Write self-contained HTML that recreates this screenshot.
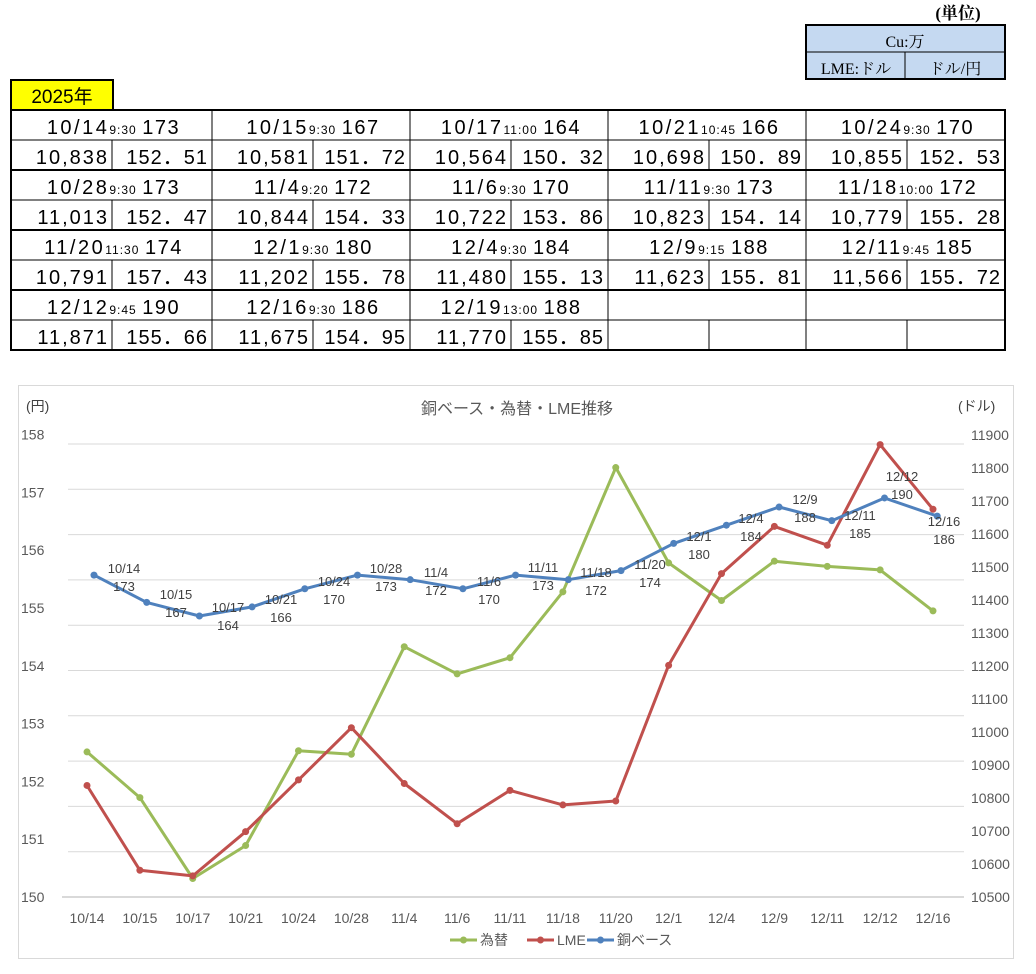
<!DOCTYPE html>
<html><head><meta charset="utf-8">
<style>
html,body{margin:0;padding:0;background:#fff;}
svg{display:block;}
.t{font-family:"Liberation Sans","Noto Sans CJK JP",sans-serif;}
.m{font-family:"Liberation Serif","Noto Serif CJK SC",serif;}
</style></head>
<body>
<svg id="s" width="1036" height="974" xmlns="http://www.w3.org/2000/svg"></svg>
<script>
const S=document.getElementById('s');let h='';
function T(x,y,s,sz,anchor,fill,cls,extra){h+=`<text x="${x}" y="${y}" font-size="${sz}" text-anchor="${anchor||'start'}" fill="${fill||'#000'}" class="${cls||'t'}" ${extra||''}>${s}</text>`;}
function L(x1,y1,x2,y2,c,w){h+=`<line x1="${x1}" y1="${y1}" x2="${x2}" y2="${y2}" stroke="${c}" stroke-width="${w}"/>`;}
T(958,19,'(単位)',17,'middle','#000','m','font-weight="bold"');
h+=`<rect x="806" y="25" width="199" height="54" fill="#c5d9f1" stroke="#000" stroke-width="2"/>`;
L(806,52,1005,52,'#000',1);L(905,52,905,79,'#000',1);
T(905,47,'Cu:万',16,'middle','#000','m');
T(856,74,'LME:ドル',16,'middle','#000','m');
T(955,74,'ドル/円',16,'middle','#000','m');
h+=`<rect x="11" y="80" width="102" height="30" fill="#ffff00" stroke="#000" stroke-width="2"/>`;
T(62,103,'2025年',19,'middle');
const D=[['10/14','9:30','173','10,838','152.51'],['10/15','9:30','167','10,581','151.72'],['10/17','11:00','164','10,564','150.32'],['10/21','10:45','166','10,698','150.89'],['10/24','9:30','170','10,855','152.53'],
['10/28','9:30','173','11,013','152.47'],['11/4','9:20','172','10,844','154.33'],['11/6','9:30','170','10,722','153.86'],['11/11','9:30','173','10,823','154.14'],['11/18','10:00','172','10,779','155.28'],
['11/20','11:30','174','10,791','157.43'],['12/1','9:30','180','11,202','155.78'],['12/4','9:30','184','11,480','155.13'],['12/9','9:15','188','11,623','155.81'],['12/11','9:45','185','11,566','155.72'],
['12/12','9:45','190','11,871','155.66'],['12/16','9:30','186','11,675','154.95'],['12/19','13:00','188','11,770','155.85']];
const gx=[11,212,410,608,806,1005];
for(let r=0;r<4;r++){const y=110+r*60;
 L(11,y+30,1005,y+30,'#000',1);
 for(let g=0;g<5;g++){L(gx[g]+101,y+30,gx[g]+101,y+60,'#000',1);if(g>0)L(gx[g],y,gx[g],y+60,'#000',1);
  const d=D[r*5+g];if(!d)continue;const cx=(gx[g]+gx[g+1])/2;
  h+=`<text x="${cx+2}" y="${y+24}" text-anchor="middle" class="t" font-size="20"><tspan letter-spacing="2.5">${d[0]}</tspan><tspan font-size="12" letter-spacing="1">${d[1]}</tspan> <tspan letter-spacing="1.5"> ${d[2]}</tspan></text>`;
  T(gx[g]+98,y+54,d[3],20,'end','#000','t','letter-spacing="2"');
  T(gx[g+1]-4,y+54,d[4].replace('.','．'),20,'end','#000','t','letter-spacing="1"');
 }
 if(r>0)L(11,y,1005,y,'#000',2);
}
h+=`<rect x="11" y="110" width="994" height="240" fill="none" stroke="#000" stroke-width="2"/>`;
h+=`<rect x="18.5" y="385.5" width="995" height="573" fill="#fff" stroke="#d9d9d9" stroke-width="1"/>`;
T(517,414,'銅ベース・為替・LME推移',16,'middle','#595959');
T(26,411,'(円)',14,'start','#404040');T(958,411,'(ドル)',14,'start','#404040');
for(let i=0;i<10;i++){const y=444+i*45.3;L(68,y,964,y,'#d9d9d9',1);}
L(62,897,964,897,'#d9d9d9',2);
for(let i=0;i<=8;i++){const y=897-i*57.8;T(21,y+5,150+i,14,'start','#595959');}
for(let i=0;i<=14;i++){const y=897-i*33;T(971,y+5,10500+i*100,14,'start','#595959');}
const dates=['10/14','10/15','10/17','10/21','10/24','10/28','11/4','11/6','11/11','11/18','11/20','12/1','12/4','12/9','12/11','12/12','12/16'];
const lme=[10838,10581,10564,10698,10855,11013,10844,10722,10823,10779,10791,11202,11480,11623,11566,11871,11675];
const yen=[152.51,151.72,150.32,150.89,152.53,152.47,154.33,153.86,154.14,155.28,157.43,155.78,155.13,155.81,155.72,155.66,154.95];
const cu=[173,167,164,166,170,173,172,170,173,172,174,180,184,188,185,190,186];
dates.forEach((d,i)=>T(87+i*52.875,923,d,14,'middle','#595959'));
function ser(xs,ys,c){let p=xs.map((x,i)=>x.toFixed(1)+','+ys[i].toFixed(1)).join(' ');
 h+=`<polyline points="${p}" fill="none" stroke="${c}" stroke-width="3" stroke-linejoin="round"/>`;
 xs.forEach((x,i)=>h+=`<circle cx="${x}" cy="${ys[i]}" r="3.5" fill="${c}"/>`);}
const xg=dates.map((d,i)=>87+i*52.875);
ser(xg,yen.map(v=>897-(v-150)*57.8),'#9bbb59');
ser(xg,lme.map(v=>897-(v-10500)*0.33),'#c0504d');
const xb=dates.map((d,i)=>94+i*52.7);
ser(xb,cu.map(v=>616-(v-164)*4.54),'#4f81bd');
const lab=[[124,568],[176,594],[228,607],[281,599],[334,581],[386,568],[436,572],[489,581],[543,567],[596,572],[650,564],[699,536],[751,518],[805,499],[860,515],[902,476],[944,521]];
lab.forEach((l,i)=>{T(l[0],l[1]+5,dates[i],13,'middle','#404040');T(l[0],l[1]+23,cu[i],13,'middle','#404040');});
[[450,'#9bbb59','為替'],[527,'#c0504d','LME'],[587,'#4f81bd','銅ベース']].forEach(a=>{
 L(a[0],940,a[0]+27,940,a[1],3);h+=`<circle cx="${a[0]+13.5}" cy="940" r="3.5" fill="${a[1]}"/>`;
 T(a[0]+30,945,a[2],14,'start','#595959');});
S.innerHTML=h;
</script>
</body></html>
